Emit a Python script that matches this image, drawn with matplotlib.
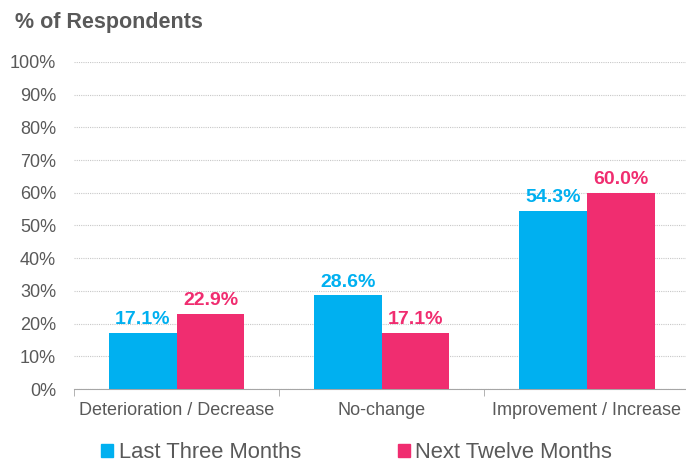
import numpy as np
import matplotlib.pyplot as plt
from matplotlib.patches import Patch

categories = ["Deterioration / Decrease", "No-change", "Improvement / Increase"]
series_names = ["Last Three Months", "Next Twelve Months"]
last_three = [17.1, 28.6, 54.3]
next_twelve = [22.9, 17.1, 60.0]

blue = '#00B0F0'
pink = '#F02D70'
text_gray = '#595959'

plt.rcParams['font.family'] = ['Liberation Sans', 'DejaVu Sans']

fig = plt.figure(figsize=(6.86, 4.62), dpi=100)
ax = fig.add_axes([0.108, 0.158, 0.897, 0.708])

x = np.arange(len(categories))
w = 0.33
b1 = ax.bar(x - w / 2, last_three, w, color=blue, zorder=3)
b2 = ax.bar(x + w / 2, next_twelve, w, color=pink, zorder=3)

for rect, v in zip(b1, last_three):
    ax.text(rect.get_x() + rect.get_width() / 2, v + 1.5, f"{v:.1f}%",
            ha='center', va='bottom', fontsize=14, fontweight='bold', color=blue)
for rect, v in zip(b2, next_twelve):
    ax.text(rect.get_x() + rect.get_width() / 2, v + 1.5, f"{v:.1f}%",
            ha='center', va='bottom', fontsize=14, fontweight='bold', color=pink)

ax.set_xlim(-0.5, 2.5)
ax.set_ylim(0, 100)
ax.set_yticks(np.arange(0, 101, 10))
ax.set_yticklabels([f"{t}%" for t in range(0, 101, 10)])
ax.set_xticks(x)
ax.set_xticklabels(categories)
ax.set_xticks([-0.5, 0.5, 1.5, 2.5], minor=True)
ax.tick_params(axis='x', which='major', length=0, pad=9, labelsize=13, labelcolor=text_gray)
ax.tick_params(axis='x', which='minor', length=5, color='#A6A6A6')
ax.tick_params(axis='y', length=0, pad=13, labelsize=13, labelcolor=text_gray)

ax.yaxis.grid(True, color='#C8C8C8', linewidth=0.8, linestyle=(0, (1, 1)), zorder=0)
for s in ['top', 'right', 'left']:
    ax.spines[s].set_visible(False)
ax.spines['bottom'].set_color('#A6A6A6')

fig.text(0.022, 0.952, "% of Respondents", fontsize=15.5, fontweight='bold',
         color=text_gray, ha='left', va='center')

handles = [Patch(color=blue, label=series_names[0]), Patch(color=pink, label=series_names[1])]
leg = fig.legend(handles=handles, loc='center', bbox_to_anchor=(0.52, 0.02), ncol=2,
                 frameon=False, fontsize=15.8, handlelength=0.55, handleheight=0.55,
                 handletextpad=0.25, columnspacing=4.4, borderpad=0, borderaxespad=0)
for t in leg.get_texts():
    t.set_color(text_gray)

fig.savefig("out.png", dpi=100, facecolor='white')
